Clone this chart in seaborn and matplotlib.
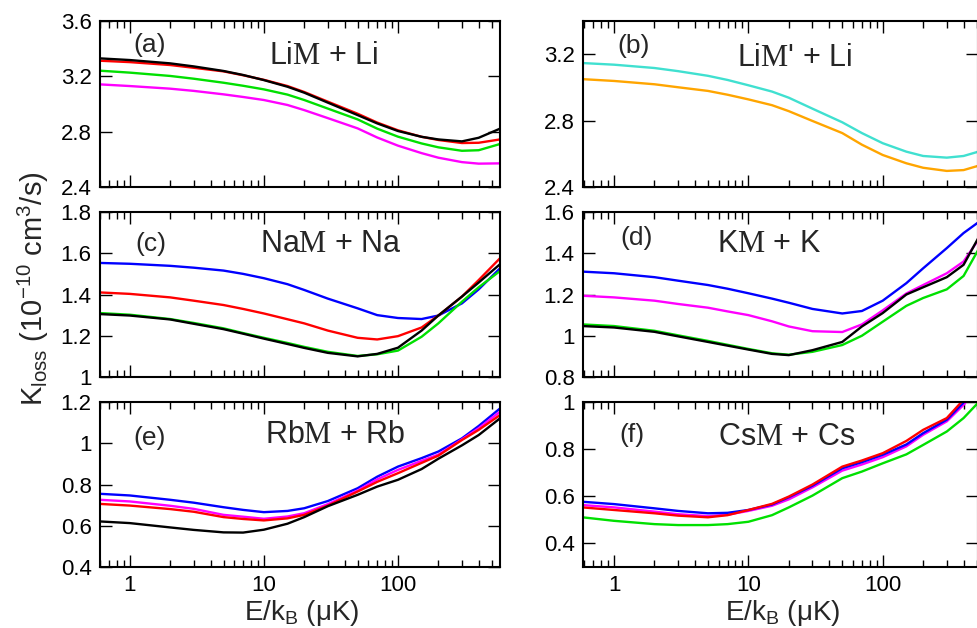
import numpy as np
import pandas as pd
import seaborn as sns
import matplotlib
matplotlib.use("Agg")
from matplotlib import pyplot as plt
from matplotlib import ticker

# collision energy grids (uK), left and right columns
e_left = [0.6, 1, 2, 3, 5, 7, 10, 15, 20, 30, 50, 70, 100, 150, 200, 300, 400, 577]
e_right = [0.58, 1, 2, 3, 5, 7, 10, 15, 20, 30, 50, 70, 100, 150, 200, 300, 400, 515]

# (a) LiM + Li
a_magenta = [3.142, 3.13, 3.111, 3.095, 3.07, 3.051, 3.029, 2.993, 2.956, 2.898, 2.824, 2.758,
             2.699, 2.645, 2.612, 2.58, 2.569, 2.571]
a_green = [3.241, 3.227, 3.203, 3.183, 3.154, 3.132, 3.106, 3.068, 3.029, 2.967, 2.889, 2.822,
           2.764, 2.715, 2.687, 2.662, 2.666, 2.711]
a_red = [3.313, 3.303, 3.282, 3.262, 3.236, 3.208, 3.175, 3.13, 3.087, 3.017, 2.93, 2.866,
         2.81, 2.763, 2.74, 2.718, 2.72, 2.744]
a_black = [3.33, 3.318, 3.294, 3.272, 3.239, 3.21, 3.173, 3.125, 3.082, 3.01, 2.92, 2.86,
           2.805, 2.763, 2.744, 2.73, 2.756, 2.822]

# (b) LiM' + Li
b_turquoise = [3.147, 3.137, 3.117, 3.098, 3.07, 3.045, 3.013, 2.975, 2.938, 2.872, 2.79, 2.725,
               2.664, 2.613, 2.587, 2.577, 2.587, 2.613]
b_orange = [3.05, 3.039, 3.019, 3.001, 2.979, 2.956, 2.928, 2.893, 2.857, 2.798, 2.725, 2.655,
            2.593, 2.543, 2.516, 2.497, 2.502, 2.528]

# (c) NaM + Na
c_blue = [1.553, 1.549, 1.539, 1.53, 1.516, 1.5, 1.479, 1.45, 1.422, 1.38, 1.333, 1.30,
          1.286, 1.281, 1.298, 1.357, 1.425, 1.527]
c_red = [1.41, 1.403, 1.386, 1.37, 1.349, 1.33, 1.308, 1.28, 1.26, 1.225, 1.19, 1.182,
         1.198, 1.24, 1.298, 1.39, 1.47, 1.576]
c_green = [1.31, 1.302, 1.281, 1.262, 1.236, 1.213, 1.19, 1.165, 1.146, 1.122, 1.102, 1.11,
           1.128, 1.195, 1.26, 1.365, 1.435, 1.514]
c_black = [1.305, 1.298, 1.279, 1.258, 1.232, 1.21, 1.186, 1.16, 1.141, 1.117, 1.1, 1.112,
           1.142, 1.225, 1.298, 1.39, 1.458, 1.547]

# (d) KM + K
d_blue = [1.311, 1.303, 1.284, 1.267, 1.246, 1.228, 1.206, 1.18, 1.16, 1.13, 1.108, 1.12,
          1.17, 1.255, 1.327, 1.425, 1.498, 1.55]
d_magenta = [1.194, 1.186, 1.17, 1.154, 1.136, 1.118, 1.1, 1.07, 1.045, 1.022, 1.018, 1.055,
             1.123, 1.205, 1.246, 1.303, 1.36, 1.465]
d_green = [1.055, 1.047, 1.024, 1.002, 0.975, 0.956, 0.936, 0.915, 0.908, 0.922, 0.955, 1.0,
           1.068, 1.145, 1.183, 1.225, 1.29, 1.417]
d_black = [1.047, 1.04, 1.019, 0.997, 0.97, 0.952, 0.933, 0.912, 0.906, 0.93, 0.97, 1.045,
           1.11, 1.2, 1.235, 1.284, 1.344, 1.474]

# (e) RbM + Rb
e_blue = [0.755, 0.747, 0.726, 0.712, 0.69, 0.677, 0.666, 0.672, 0.685, 0.72, 0.782, 0.838,
          0.887, 0.928, 0.96, 1.024, 1.084, 1.169]
e_magenta = [0.726, 0.718, 0.697, 0.682, 0.653, 0.644, 0.634, 0.645, 0.661, 0.705, 0.771, 0.825,
             0.871, 0.915, 0.945, 1.019, 1.073, 1.153]
e_red = [0.706, 0.698, 0.681, 0.668, 0.642, 0.633, 0.626, 0.636, 0.653, 0.698, 0.766, 0.813,
         0.855, 0.905, 0.94, 1.016, 1.065, 1.137]
e_black = [0.621, 0.613, 0.592, 0.58, 0.568, 0.567, 0.581, 0.61, 0.642, 0.695, 0.75, 0.79,
           0.823, 0.875, 0.925, 0.99, 1.04, 1.121]

# (f) CsM + Cs
f_green = [0.511, 0.496, 0.482, 0.478, 0.478, 0.482, 0.492, 0.52, 0.553, 0.603, 0.677, 0.705,
           0.74, 0.778, 0.818, 0.875, 0.932, 0.998]
f_magenta = [0.563, 0.553, 0.535, 0.524, 0.516, 0.522, 0.538, 0.56, 0.587, 0.638, 0.709, 0.735,
             0.766, 0.812, 0.861, 0.918, 0.988, 1.06]
f_blue = [0.577, 0.567, 0.549, 0.538, 0.528, 0.53, 0.542, 0.565, 0.596, 0.645, 0.719, 0.745,
          0.776, 0.82, 0.868, 0.925, 0.998, 1.066]
f_red = [0.553, 0.542, 0.528, 0.518, 0.511, 0.52, 0.542, 0.568, 0.599, 0.65, 0.726, 0.752,
         0.783, 0.835, 0.882, 0.932, 1.01, 1.08]

panel_tags = ["(a)", "(b)", "(c)", "(d)", "(e)", "(f)"]
panel_names = ["Li$\\mathrm{M}$ + Li", "Li$\\mathrm{M}$' + Li", "Na$\\mathrm{M}$ + Na",
               "K$\\mathrm{M}$ + K", "Rb$\\mathrm{M}$ + Rb", "Cs$\\mathrm{M}$ + Cs"]
y_limits = [(2.4, 3.6), (2.4, 3.4), (1.0, 1.8), (0.8, 1.6), (0.4, 1.2), (0.3, 1.0)]
y_ticks = [[2.4, 2.8, 3.2, 3.6], [2.4, 2.8, 3.2], [1.0, 1.2, 1.4, 1.6, 1.8],
           [0.8, 1.0, 1.2, 1.4, 1.6], [0.4, 0.6, 0.8, 1.0, 1.2], [0.4, 0.6, 0.8, 1.0]]
x_limits = [(0.6, 577), (0.587, 512)]

colors = {"black": "black", "red": "#ff0000", "green": "#00e000", "magenta": "#ff00ff",
          "blue": "#0000ff", "turquoise": "#40e0d0", "orange": "#ffa500"}

panels = [
    [("magenta", a_magenta), ("green", a_green), ("red", a_red), ("black", a_black)],
    [("turquoise", b_turquoise), ("orange", b_orange)],
    [("blue", c_blue), ("red", c_red), ("green", c_green), ("black", c_black)],
    [("blue", d_blue), ("magenta", d_magenta), ("green", d_green), ("black", d_black)],
    [("blue", e_blue), ("magenta", e_magenta), ("red", e_red), ("black", e_black)],
    [("green", f_green), ("magenta", f_magenta), ("blue", f_blue), ("red", f_red)],
]

# (label x, label y, name x, name y) in axes fractions
text_pos = [(0.083, 0.855, 0.56, 0.79), (0.086, 0.85, 0.536, 0.78),
            (0.088, 0.806, 0.578, 0.806), (0.094, 0.845, 0.472, 0.806),
            (0.083, 0.785, 0.5875, 0.80), (0.092, 0.80, 0.515, 0.787)]

sns.set_theme(style="ticks")
plt.rcParams["font.family"] = ["Liberation Sans", "DejaVu Sans"]
plt.rcParams["mathtext.fontset"] = "custom"
plt.rcParams["mathtext.rm"] = "Liberation Serif"
plt.rcParams["mathtext.sf"] = "Liberation Sans"
plt.rcParams["mathtext.it"] = "Liberation Sans:italic"

fig = plt.figure(figsize=(9.77, 6.28), dpi=100)

col_x = [(0.1024, 0.4094), (0.5967, 0.4043)]
row_y = [(0.7022, 0.2643), (0.3997, 0.2627), (0.0971, 0.2627)]

for i, curves in enumerate(panels):
    row, col = divmod(i, 2)
    x0, w = col_x[col]
    y0, h = row_y[row]
    ax = fig.add_axes([x0, y0, w, h])
    energies = e_left if col == 0 else e_right

    frames = []
    for name, vals in curves:
        frames.append(pd.DataFrame({"E": energies, "K": vals, "curve": name}))
    df = pd.concat(frames, ignore_index=True)
    order = [c for c, _ in curves]
    sns.lineplot(data=df, x="E", y="K", hue="curve", hue_order=order,
                 palette={c: colors[c] for c in order}, linewidth=1.7,
                 legend=False, ax=ax, estimator=None, sort=False)

    ax.set_xscale("log")
    ax.set_xlim(*x_limits[col])
    ax.set_ylim(*y_limits[i])
    ax.set_yticks(y_ticks[i])
    ax.yaxis.set_major_formatter(ticker.FuncFormatter(lambda v, p: "%g" % round(v, 2)))
    ax.xaxis.set_major_locator(ticker.FixedLocator([1, 10, 100]))
    ax.xaxis.set_minor_locator(ticker.LogLocator(base=10, subs=np.arange(2, 10)))
    ax.xaxis.set_major_formatter(ticker.FuncFormatter(lambda v, p: "%g" % v))
    ax.xaxis.set_minor_formatter(ticker.NullFormatter())
    ax.tick_params(which="both", direction="in", top=True, right=True, colors="black")
    ax.tick_params(which="major", length=8.5, width=1.0, labelsize=16, pad=6)
    ax.tick_params(which="minor", length=4.8, width=1.0)
    ax.tick_params(axis="y", which="minor", left=False, right=False)
    if row < 2:
        ax.tick_params(labelbottom=False)
    ax.set_xlabel("")
    ax.set_ylabel("")
    for sp in ax.spines.values():
        sp.set_linewidth(1.5)
        sp.set_color("black")

    lx, ly, nx, ny = text_pos[i]
    ax.text(lx, ly, panel_tags[i], transform=ax.transAxes, fontsize=19,
            ha="left", va="center")
    ax.text(nx, ny, panel_names[i], transform=ax.transAxes, fontsize=22,
            ha="center", va="center")

fig.text(0.034, 0.541, "K$_\\mathsf{loss}$ (10$^\\mathsf{-10}$ cm$^\\mathsf{3}$/s)",
         rotation=90, ha="center", va="center", fontsize=21)
fig.text(0.309, 0.047, "E/k$_\\mathsf{B}$ (μK)", ha="center", va="top", fontsize=20)
fig.text(0.801, 0.047, "E/k$_\\mathsf{B}$ (μK)", ha="center", va="top", fontsize=20)

fig.savefig("out.png", dpi=100)
